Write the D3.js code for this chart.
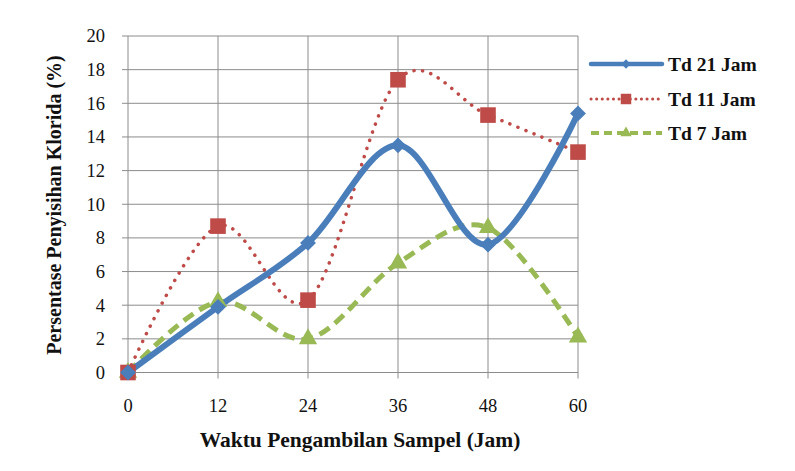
<!DOCTYPE html>
<html><head><meta charset="utf-8">
<script src="https://cdn.jsdelivr.net/npm/d3@7"></script>
<style>body{margin:0;background:#fff}</style>
</head><body>
<svg id="c" width="795" height="471"></svg>
<script>
const hours = [0, 12, 24, 36, 48, 60];
const td21 = [0, 3.9, 7.7, 13.5, 7.6, 15.4];
const td11 = [0, 8.7, 4.3, 17.4, 15.3, 13.1];
const td7 = [0, 4.2, 2.0, 6.5, 8.6, 2.1];
const yTicks = [0, 2, 4, 6, 8, 10, 12, 14, 16, 18, 20];
const seriesNames = ["Td 21 Jam", "Td 11 Jam", "Td 7 Jam"];
const xTitle = "Waktu Pengambilan Sampel (Jam)";
const yTitle = "Persentase Penyisihan Klorida (%)";

const svg = d3.select("#c");
const font = "'Liberation Serif','Times New Roman',serif";
const x = d3.scaleLinear().domain([0, 60]).range([128, 578]);
const y = d3.scaleLinear().domain([0, 20]).range([372.5, 36]);

// gridlines
const g = svg.append("g");
g.selectAll("line.h").data(yTicks).join("line")
  .attr("x1", 122).attr("x2", x(60))
  .attr("y1", d => y(d)).attr("y2", d => y(d))
  .attr("stroke", "#8c8c8c").attr("stroke-width", 1);
g.selectAll("line.v").data(hours).join("line")
  .attr("x1", d => x(d)).attr("x2", d => x(d))
  .attr("y1", y(20)).attr("y2", y(0) + 6)
  .attr("stroke", "#8c8c8c").attr("stroke-width", 1);

// tick labels
g.selectAll("text.yt").data(yTicks).join("text")
  .attr("x", 105).attr("y", d => y(d)).attr("dy", "0.35em")
  .attr("text-anchor", "end").attr("font-family", font).attr("font-size", 18.5)
  .attr("fill", "#111").text(d => d);
g.selectAll("text.xt").data(hours).join("text")
  .attr("x", d => x(d)).attr("y", 412)
  .attr("text-anchor", "middle").attr("font-family", font).attr("font-size", 18.5)
  .attr("fill", "#111").text(d => d);

svg.append("text").attr("x", 360).attr("y", 447).attr("text-anchor", "middle")
  .attr("font-family", font).attr("font-size", 21.5).attr("font-weight", "bold")
  .attr("fill", "#111").text(xTitle);
svg.append("text").attr("transform", "translate(61,205) rotate(-90)").attr("text-anchor", "middle")
  .attr("font-family", font).attr("font-size", 20).attr("font-weight", "bold")
  .attr("fill", "#111").text(yTitle);

const series = [
  {name: seriesNames[0], vals: td21, color: "#4a7ebb", width: 6, lw: 4.5, dash: null, ldash: null, cap: "round", sym: d3.symbolDiamond2, size: 160, lsize: 55},
  {name: seriesNames[1], vals: td11, color: "#be4b48", width: 3.5, lw: 3, dash: "0.1 8.5", ldash: "0.1 5.5", cap: "round", sym: d3.symbolSquare2, size: 310, lsize: 140},
  {name: seriesNames[2], vals: td7, color: "#98b954", width: 5, lw: 4, dash: "12 7", ldash: "8 5", cap: "butt", sym: d3.symbolTriangle2, size: 240, lsize: 90}
];

const line = d3.line().x(d => x(d[0])).y(d => y(d[1])).curve(d3.curveCatmullRom.alpha(0));
const order = [2, 1, 0];
order.forEach(i => {
  const s = series[i];
  const pts = hours.map((h, k) => [h, s.vals[k]]);
  svg.append("path").attr("d", line(pts)).attr("fill", "none")
    .attr("stroke", s.color).attr("stroke-width", s.width)
    .attr("stroke-dasharray", s.dash).attr("stroke-linecap", s.cap);
});
order.forEach(i => {
  const s = series[i];
  const pts = hours.map((h, k) => [h, s.vals[k]]);
  svg.append("g").selectAll("path").data(pts).join("path")
    .attr("transform", d => `translate(${x(d[0])},${y(d[1])})`)
    .attr("d", d3.symbol().type(s.sym).size(s.size))
    .attr("fill", s.color);
});

// legend
const ly = [64, 99, 133];
series.forEach((s, i) => {
  const lg = svg.append("g");
  lg.append("line").attr("x1", 591).attr("x2", 662).attr("y1", ly[i]).attr("y2", ly[i])
    .attr("stroke", s.color).attr("stroke-width", s.lw)
    .attr("stroke-dasharray", s.ldash).attr("stroke-linecap", s.cap);
  lg.append("path").attr("transform", `translate(626,${ly[i]})`)
    .attr("d", d3.symbol().type(s.sym).size(s.lsize)).attr("fill", s.color);
  lg.append("text").attr("x", 668).attr("y", ly[i]).attr("dy", "0.35em")
    .attr("font-family", font).attr("font-size", 19.5).attr("font-weight", "bold")
    .attr("fill", "#111").text(s.name);
});
</script>
</body></html>
